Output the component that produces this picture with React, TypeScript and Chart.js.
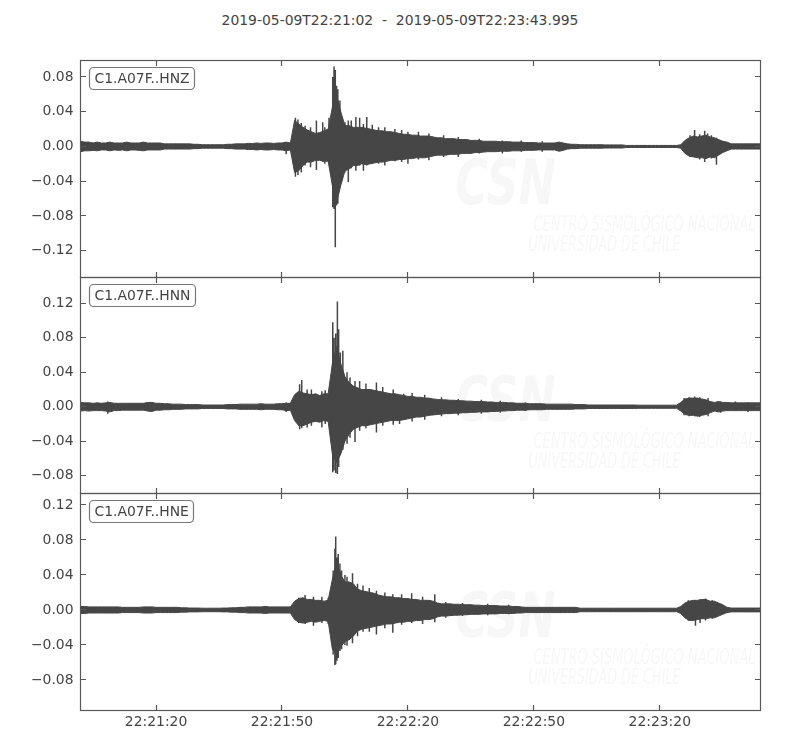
import React, { useEffect, useRef } from 'react';
import { Chart, registerables } from 'chart.js';

Chart.register(...registerables);

// ---------- data ----------
const TITLE = '2019-05-09T22:21:02  -  2019-05-09T22:23:43.995';
const DURATION_S = 161.995;
const SAMPLE_STEP_S = 1; // envelope values are read once per second from the picture
const MILLI = 1e-3; // envelope arrays are in units of 10^-3

const X_TICK_SECONDS = [18, 48, 78, 108, 138];
const X_TICK_LABELS = ['22:21:20', '22:21:50', '22:22:20', '22:22:50', '22:23:20'];

const STATION_LABELS = ['C1.A07F..HNZ', 'C1.A07F..HNN', 'C1.A07F..HNE'];

const HNZ_Y_TICKS = [0.08, 0.04, 0, -0.04, -0.08, -0.12];
const HNN_Y_TICKS = [0.12, 0.08, 0.04, 0, -0.04, -0.08];
const HNE_Y_TICKS = [0.12, 0.08, 0.04, 0, -0.04, -0.08];

const HNZ_Y_RANGE = [-0.1509, 0.099];
const HNN_Y_RANGE = [-0.1007, 0.15];
const HNE_Y_RANGE = [-0.1149, 0.1331];

// per-second upper / lower envelope (x 10^-3)
const HNZ_UPPER = [
  6, 5, 5, 4, 5, 4, 4, 5, 4, 4,
  4, 5, 4, 4, 4, 5, 4, 4, 4, 4,
  3, 3, 3, 3, 3, 3, 3, 2.5, 2.5, 2,
  2, 2, 2, 2, 2, 2.5, 2.5, 3, 3, 3,
  3.5, 3.5, 4, 3.5, 4, 4, 3.5, 4, 4, 5,
  4, 30, 26, 22, 19, 17, 15, 16, 18, 20,
  45, 60, 40, 24, 24, 22, 22, 22, 21, 20,
  19, 18, 18, 17, 17, 16, 15, 14, 14, 13,
  13, 12, 12, 12, 11, 10, 10, 9, 9, 9,
  8, 8, 8, 7, 7, 7, 6, 6, 6, 6,
  5.5, 5.5, 5.5, 5, 5, 5, 4.5, 4.5, 4.5, 4,
  4, 4, 4, 4, 5, 4, 3, 2.5, 2.5, 2,
  2, 2, 2, 2, 2, 1.8, 1.8, 1.8, 1.8, 1.8,
  1.2, 1.2, 1.2, 1.2, 1.2, 1.2, 1.2, 1.2, 1.2, 1.2,
  1.2, 1.2, 1.2, 2, 7, 10, 12, 11, 12, 13,
  11, 10, 8, 6, 5, 3, 3, 3, 3, 3,
  3, 3, 3,
];
const HNZ_LOWER = [
  -6, -5, -5, -4.5, -5, -4, -4, -5, -4, -4.5,
  -4, -5, -4, -4, -4.5, -5, -4, -4, -4, -4,
  -3, -3, -3, -3, -3, -3, -3, -2.5, -2.5, -2,
  -2, -2, -2, -2, -2, -2.5, -2.5, -3, -3, -3,
  -3.5, -3.5, -4, -3.5, -4, -4, -3.5, -4, -4, -5,
  -4, -30, -28, -22, -18, -18, -16, -16, -17, -17,
  -45, -65, -45, -28, -26, -22, -22, -20, -21, -20,
  -19, -18, -18, -17, -16, -16, -15, -15, -14, -14,
  -13, -13, -13, -12, -11, -10, -10, -10, -9, -9,
  -9, -8, -8, -8, -7, -7, -6.5, -6, -6, -6,
  -5.5, -5.5, -5.5, -5, -5, -5, -4.5, -4.5, -4.5, -4,
  -4, -4, -4, -4, -5.5, -4.5, -3, -2.5, -2.5, -2,
  -2, -2, -2, -2, -2, -1.8, -1.8, -1.8, -1.8, -1.8,
  -1.2, -1.2, -1.2, -1.2, -1.2, -1.2, -1.2, -1.2, -1.2, -1.2,
  -1.2, -1.2, -1.2, -2, -8, -11, -12, -13, -13, -14,
  -12, -13, -10, -7, -5, -3, -3, -3, -3, -3,
  -3, -3, -3,
];
// individual peaks: [seconds from start, top, bottom] (x 10^-3)
const HNZ_PEAKS = [
  [49.0, 3, -9], [51.2, 33, -35], [51.8, 31, -33], [52.6, 27, -30],
  [53.5, 24, -22], [54.8, 22, -24], [56.2, 30, -27], [57.7, 28, -18],
  [58.2, 22, -20], [59.2, 33, -20],
  [60.1, 80, -70], [60.4, 92, -72], [60.7, 88, -116], [61.0, 70, -68],
  [61.3, 66, -66], [61.8, 53, -45], [62.2, 30, -40], [63.0, 28, -30],
  [63.8, 30, -41], [64.5, 30, -25], [65.6, 34, -28], [66.5, 33, -22],
  [67.4, 26, -28], [68.2, 34, -22], [69.5, 25, -20], [71.0, 22, -20],
  [72.5, 22, -22], [74.9, 20, -17], [76.5, 19, -18], [78.0, 17, -20],
  [80.5, 17, -15], [83.0, 15, -16], [86.5, 13, -12], [90.0, 11, -12],
  [95.0, 9, -8], [100.5, 7, -8], [105.0, 7, -6], [110.0, 6, -6],
  [145.2, 13, -12], [146.3, 19, -10], [147.5, 14, -15], [148.7, 18, -18],
  [149.4, 15, -12], [150.3, 13, -14], [151.5, 10, -21],
];

const HNN_UPPER = [
  5, 4.5, 4.5, 4, 4.5, 4, 4.5, 5, 4, 4,
  4, 4, 4, 4, 4, 4, 5, 5, 4, 4,
  3.5, 3.5, 3, 3, 3, 2.5, 2.5, 2.5, 2.5, 2,
  2, 2, 2, 2, 2, 2.5, 2.5, 2.5, 3, 3,
  3, 3, 3, 3.5, 3, 3, 3, 3.5, 3.5, 4,
  4, 14, 18, 16, 15, 14, 15, 13, 15, 15,
  50, 70, 50, 35, 28, 24, 22, 20, 20, 20,
  19, 18, 17, 16, 15, 15, 14, 13, 12, 12,
  11, 11, 10, 10, 9, 8.5, 8, 8, 7.5, 7.5,
  7, 7, 6.5, 6.5, 6, 6, 6, 5.5, 5.5, 5,
  5, 5, 4.5, 4.5, 4, 4, 4, 3.5, 3.5, 3.5,
  3.5, 3, 3, 3, 3, 3, 3, 3, 2.5, 2.5,
  2.5, 2, 2, 2, 2, 2, 2, 2, 2, 2,
  2, 2, 2, 1.8, 1.8, 1.8, 1.8, 1.8, 1.8, 1.8,
  1.8, 1.8, 1.8, 5, 9, 10, 10, 10, 9, 8,
  6, 5, 6, 5, 5, 4.5, 4.5, 4.5, 4.5, 4.5,
  4.5, 4.5, 4.5,
];
const HNN_LOWER = [
  -5, -4.5, -5, -4.5, -4.5, -4.5, -5, -6, -4.5, -4.5,
  -4, -4, -4, -4, -4, -4, -5, -5.5, -4, -4,
  -3.5, -3.5, -3, -3, -3, -2.5, -2.5, -2.5, -2.5, -2,
  -2, -2, -2, -2, -2, -2.5, -2.5, -2.5, -3, -3,
  -3, -3, -3, -3.5, -3, -3, -3, -3.5, -3.5, -4.5,
  -4, -16, -22, -22, -20, -18, -17, -18, -16, -17,
  -55, -65, -55, -40, -32, -26, -24, -22, -22, -21,
  -20, -19, -18, -17, -16, -16, -16, -15, -14, -13,
  -12, -12, -11, -10, -9.5, -9, -8.5, -8, -8, -7.5,
  -7.5, -7, -7, -6.5, -6.5, -6, -6, -6, -5.5, -5.5,
  -5, -5, -4.5, -4.5, -4, -4, -4, -3.5, -3.5, -3.5,
  -3.5, -3, -3, -3, -3, -3, -3, -3, -2.5, -2.5,
  -2.5, -2, -2, -2, -2, -2, -2, -2, -2, -2,
  -2, -2, -2, -1.8, -1.8, -1.8, -1.8, -1.8, -1.8, -1.8,
  -1.8, -1.8, -1.8, -5, -9, -10, -10, -11, -10, -9,
  -7, -5, -6, -5, -4.5, -4.5, -4.5, -4.5, -4.5, -4.5,
  -4.5, -4.5, -4.5,
];
const HNN_PEAKS = [
  [6.5, 6, -8], [49.0, 5, -6],
  [52.2, 26, -26], [52.7, 31, -25], [54.0, 20, -24], [55.0, 20, -22],
  [57.5, 18, -24], [58.3, 19, -20],
  [60.1, 98, -76], [60.4, 80, -74], [60.8, 85, -77], [61.2, 122, -78],
  [61.5, 90, -70], [61.9, 63, -54], [62.5, 65, -50], [63.5, 40, -43],
  [64.2, 34, -36], [65.4, 30, -41], [66.5, 30, -28], [68.0, 27, -25],
  [70.5, 28, -30], [72.0, 23, -22], [74.5, 20, -21], [76.0, 12, -20],
  [77.0, 15, -12], [79.0, 16, -17], [82.0, 14, -15], [86.0, 11, -11],
  [90.0, 9, -10], [95.5, 8, -8], [100.0, 7, -7], [106.0, 5, -5],
  [143.8, 10, -10], [145.0, 11, -11], [146.3, 12, -11], [147.5, 11, -12],
  [149.5, 10, -11], [151.8, 6, -6], [152.5, 6, -7], [156.0, 6, -5], [159.0, 5, -6],
];

const HNE_UPPER = [
  4, 4, 3.5, 3.5, 3.5, 3.5, 3.5, 3.5, 3.5, 3.5,
  3, 3, 3, 3, 3, 3.5, 3.5, 3.5, 3, 3,
  3, 3, 3, 3, 2.5, 2.5, 2.2, 2.2, 2.2, 2,
  2, 2, 2, 2, 2.2, 2.2, 2.5, 2.5, 3, 3,
  3.5, 3.5, 3.5, 3.5, 4, 3.5, 3.5, 3.5, 3.5, 3.5,
  3.5, 10, 13, 14, 12, 12, 11, 11, 10, 11,
  35, 55, 40, 32, 32, 30, 24, 22, 21, 20,
  19, 17, 16, 15, 15, 14, 14, 13, 13, 12,
  12, 11, 11, 11, 10, 8, 7, 7, 7, 6.5,
  6.5, 6, 6, 6, 5.5, 5.5, 5, 5, 5, 5,
  4.5, 4.5, 4.5, 4, 4, 3.5, 3, 3, 3, 3,
  3, 3, 3, 3, 3, 3, 3, 3, 3, 2,
  2, 2, 2, 2, 2, 2, 2, 2, 2, 2,
  2, 2, 2, 2, 2, 2, 2, 2, 2, 2,
  2, 2, 2, 4, 8, 10, 11, 11, 12, 12,
  10, 10, 8, 6, 3, 2.2, 2.2, 2.2, 2.2, 2.2,
  2.2, 2.2, 2.2,
];
const HNE_LOWER = [
  -4, -4, -3.5, -3.5, -3.5, -3.5, -3.5, -3.5, -3.5, -3.5,
  -3, -3, -3, -3, -3, -3.5, -3.5, -3.5, -3, -3,
  -3, -3, -3, -3, -2.5, -2.5, -2.2, -2.2, -2.2, -2,
  -2, -2, -2, -2, -2.2, -2.2, -2.5, -2.5, -3, -3,
  -3.5, -3.5, -3.5, -3.5, -4, -3.5, -3.5, -3.5, -3.5, -3.5,
  -3.5, -11, -14, -15, -14, -13, -14, -13, -12, -13,
  -45, -50, -42, -36, -34, -30, -24, -22, -21, -20,
  -19, -18, -17, -16, -16, -15, -14, -14, -13, -13,
  -12, -12, -11, -11, -10, -8, -7, -7, -6.5, -6,
  -6, -5.5, -5.5, -5, -5, -5, -4.5, -4.5, -4.5, -4.5,
  -4, -4, -4, -4, -3.5, -3.5, -3, -3, -3, -3,
  -3, -3, -3, -3, -3, -3, -3, -3, -3, -2,
  -2, -2, -2, -2, -2, -2, -2, -2, -2, -2,
  -2, -2, -2, -2, -2, -2, -2, -2, -2, -2,
  -2, -2, -2, -4, -9, -12, -12, -11, -10, -10,
  -9, -9, -7, -5, -3, -2.2, -2.2, -2.2, -2.2, -2.2,
  -2.2, -2.2, -2.2,
];
const HNE_PEAKS = [
  [52.0, 14, -15], [53.5, 17, -16], [55.5, 15, -18], [57.5, 15, -15], [59.0, 14, -16],
  [60.2, 45, -51], [60.6, 70, -63], [60.8, 84, -62], [61.1, 60, -58],
  [61.4, 64, -55], [61.8, 53, -47], [62.2, 45, -45], [63.0, 40, -40],
  [63.5, 38, -41], [64.8, 42, -38], [66.0, 30, -30], [67.3, 28, -25],
  [68.8, 25, -25], [70.5, 22, -28], [72.5, 20, -21], [74.4, 18, -26],
  [76.5, 18, -17], [78.9, 19, -15], [81.5, 15, -16], [84.4, 18, -14],
  [87.0, 9, -9], [91.0, 8, -7], [97.0, 7, -6], [102.0, 6, -5],
  [144.8, 11, -12], [146.5, 11, -18], [147.6, 12, -15], [148.9, 13, -12], [150.5, 11, -10],
];

const TRACES = [
  { label: STATION_LABELS[0], upper: HNZ_UPPER, lower: HNZ_LOWER, peaks: HNZ_PEAKS, range: HNZ_Y_RANGE, ticks: HNZ_Y_TICKS },
  { label: STATION_LABELS[1], upper: HNN_UPPER, lower: HNN_LOWER, peaks: HNN_PEAKS, range: HNN_Y_RANGE, ticks: HNN_Y_TICKS },
  { label: STATION_LABELS[2], upper: HNE_UPPER, lower: HNE_LOWER, peaks: HNE_PEAKS, range: HNE_Y_RANGE, ticks: HNE_Y_TICKS },
];

// ---------- styling / layout ----------
const FONT = '"DejaVu Sans", sans-serif';
const FONT_SIZE = 13.9;
const TEXT = '#444444';
const WAVE = '#464646';
const FRAME = '#585858';
const PLOT_LEFT = 80.5;
const PLOT_RIGHT_PAD = 39.5;
const LAYOUT = [
  { top: 55, height: 228, padTop: 5.5, padBottom: 5.5, showX: false },
  { top: 272, height: 227, padTop: 5.5, padBottom: 5.5, showX: false },
  { top: 488, height: 262, padTop: 5.5, padBottom: 0, showX: true },
];

const fmtY = (v: number) => {
  const s = Math.abs(v).toFixed(2);
  return v < -1e-9 ? '\u2212' + s : s;
};

function fitText(ctx: CanvasRenderingContext2D, text: string, x: number, y: number, w: number, font: string) {
  ctx.save();
  ctx.font = font;
  const m = ctx.measureText(text).width || 1;
  ctx.translate(x, y);
  ctx.scale(w / m, 1);
  ctx.fillText(text, 0, 0);
  ctx.restore();
}

function drawWatermark(ctx: CanvasRenderingContext2D, a: any) {
  ctx.save();
  ctx.fillStyle = '#f7f7f7';
  ctx.textBaseline = 'alphabetic';
  ctx.textAlign = 'left';
  fitText(ctx, 'CSN', a.left + 375, a.top + 143, 100, `italic bold 62px ${FONT}`);
  fitText(ctx, 'CENTRO SISMOLÓGICO NACIONAL', a.left + 453, a.top + 170, 222, `italic 22px ${FONT}`);
  fitText(ctx, 'UNIVERSIDAD DE CHILE', a.left + 448, a.top + 190, 152, `italic 22px ${FONT}`);
  ctx.restore();
}

function Panel({ idx }: { idx: number }) {
  const ref = useRef<HTMLCanvasElement | null>(null);
  const tr = TRACES[idx];
  const lay = LAYOUT[idx];

  useEffect(() => {
    if (!ref.current) return;
    const upper = tr.upper.map((v, i) => ({ x: i * SAMPLE_STEP_S, y: v * MILLI }));
    const lower = tr.lower.map((v, i) => ({ x: i * SAMPLE_STEP_S, y: v * MILLI }));
    const peaks: any[] = [];
    tr.peaks.forEach(([t, hi, lo]) => {
      peaks.push({ x: t, y: lo * MILLI }, { x: t, y: hi * MILLI }, { x: t, y: null });
    });

    const plugin = {
      id: 'obspyFrame' + idx,
      beforeDatasetsDraw(chart: any) {
        drawWatermark(chart.ctx, chart.chartArea);
      },
      afterDatasetsDraw(chart: any) {
        const { ctx, chartArea: a, scales } = chart;
        ctx.save();
        ctx.strokeStyle = FRAME;
        ctx.lineWidth = 1.2;
        ctx.beginPath();
        tr.ticks.forEach((v) => {
          const y = Math.floor(scales.y.getPixelForValue(v)) + 0.5;
          ctx.moveTo(a.left, y);
          ctx.lineTo(a.left + 5.5, y);
          ctx.moveTo(a.right, y);
          ctx.lineTo(a.right - 5.5, y);
        });
        X_TICK_SECONDS.forEach((s) => {
          const x = Math.floor(scales.x.getPixelForValue(s)) + 0.5;
          ctx.moveTo(x, a.top);
          ctx.lineTo(x, a.top + 5.5);
          ctx.moveTo(x, a.bottom);
          ctx.lineTo(x, a.bottom - 5.5);
        });
        ctx.stroke();
        ctx.strokeRect(a.left, a.top, a.right - a.left, a.bottom - a.top);

        // station label box
        ctx.font = `${FONT_SIZE}px ${FONT}`;
        const tw = ctx.measureText(tr.label).width;
        const bx = a.left + 9;
        const by = a.top + 7;
        const bw = Math.round(tw + 10);
        const bh = 22;
        ctx.beginPath();
        if ((ctx as any).roundRect) (ctx as any).roundRect(bx, by, bw, bh, 4);
        else ctx.rect(bx, by, bw, bh);
        ctx.fillStyle = '#ffffff';
        ctx.fill();
        ctx.lineWidth = 1.2;
        ctx.strokeStyle = '#777777';
        ctx.stroke();
        ctx.fillStyle = TEXT;
        ctx.textBaseline = 'middle';
        ctx.textAlign = 'left';
        ctx.fillText(tr.label, bx + 5, by + bh / 2 + 0.5);
        ctx.restore();
      },
    };

    const chart = new Chart(ref.current, {
      type: 'line',
      data: {
        datasets: [
          {
            data: upper,
            borderColor: WAVE,
            backgroundColor: WAVE,
            borderWidth: 1,
            pointRadius: 0,
            fill: '+1',
            tension: 0,
          },
          {
            data: lower,
            borderColor: WAVE,
            backgroundColor: WAVE,
            borderWidth: 1,
            pointRadius: 0,
            fill: false,
            tension: 0,
          },
          {
            data: peaks,
            borderColor: WAVE,
            borderWidth: 1.5,
            pointRadius: 0,
            fill: false,
            spanGaps: false,
          },
        ] as any,
      },
      options: {
        animation: false,
        responsive: false,
        events: [],
        layout: { padding: { top: lay.padTop, bottom: lay.padBottom, left: 0, right: PLOT_RIGHT_PAD } },
        plugins: { legend: { display: false }, tooltip: { enabled: false }, title: { display: false } },
        scales: {
          x: {
            type: 'linear',
            min: 0,
            max: DURATION_S,
            display: lay.showX,
            grid: { display: false, drawTicks: false },
            border: { display: false },
            ticks: {
              autoSkip: false,
              maxRotation: 0,
              padding: 4,
              color: TEXT,
              font: { family: FONT, size: FONT_SIZE },
              callback: (_v: any, i: number) => X_TICK_LABELS[i],
            },
            afterBuildTicks: (scale: any) => {
              scale.ticks = X_TICK_SECONDS.map((value) => ({ value }));
            },
            afterFit: (scale: any) => {
              scale.height = lay.showX ? 39.5 : 0;
              scale.paddingLeft = 0;
              scale.paddingRight = 0;
            },
          },
          y: {
            type: 'linear',
            min: tr.range[0],
            max: tr.range[1],
            grid: { display: false, drawTicks: false },
            border: { display: false },
            ticks: {
              autoSkip: false,
              padding: 7,
              color: TEXT,
              font: { family: FONT, size: FONT_SIZE },
              callback: (v: any) => fmtY(Number(v)),
            },
            afterBuildTicks: (scale: any) => {
              scale.ticks = tr.ticks.map((value) => ({ value }));
            },
            afterFit: (scale: any) => {
              scale.width = PLOT_LEFT;
              scale.paddingTop = 0;
              scale.paddingBottom = 0;
            },
          },
        },
      } as any,
      plugins: [plugin],
    });
    return () => chart.destroy();
  }, [idx]);

  return (
    <canvas
      ref={ref}
      width={800}
      height={lay.height}
      style={{ position: 'absolute', left: 0, top: lay.top, width: 800, height: lay.height }}
    />
  );
}

export default function App() {
  return (
    <div style={{ position: 'absolute', left: 0, top: 0, width: 800, height: 750, background: '#ffffff', overflow: 'hidden' }}>
      <div
        style={{
          position: 'absolute',
          left: 0,
          top: 12,
          width: 800,
          textAlign: 'center',
          fontFamily: FONT,
          fontSize: FONT_SIZE,
          lineHeight: '17px',
          color: TEXT,
          whiteSpace: 'pre',
        }}
      >
        {TITLE}
      </div>
      <Panel idx={0} />
      <Panel idx={1} />
      <Panel idx={2} />
    </div>
  );
}
